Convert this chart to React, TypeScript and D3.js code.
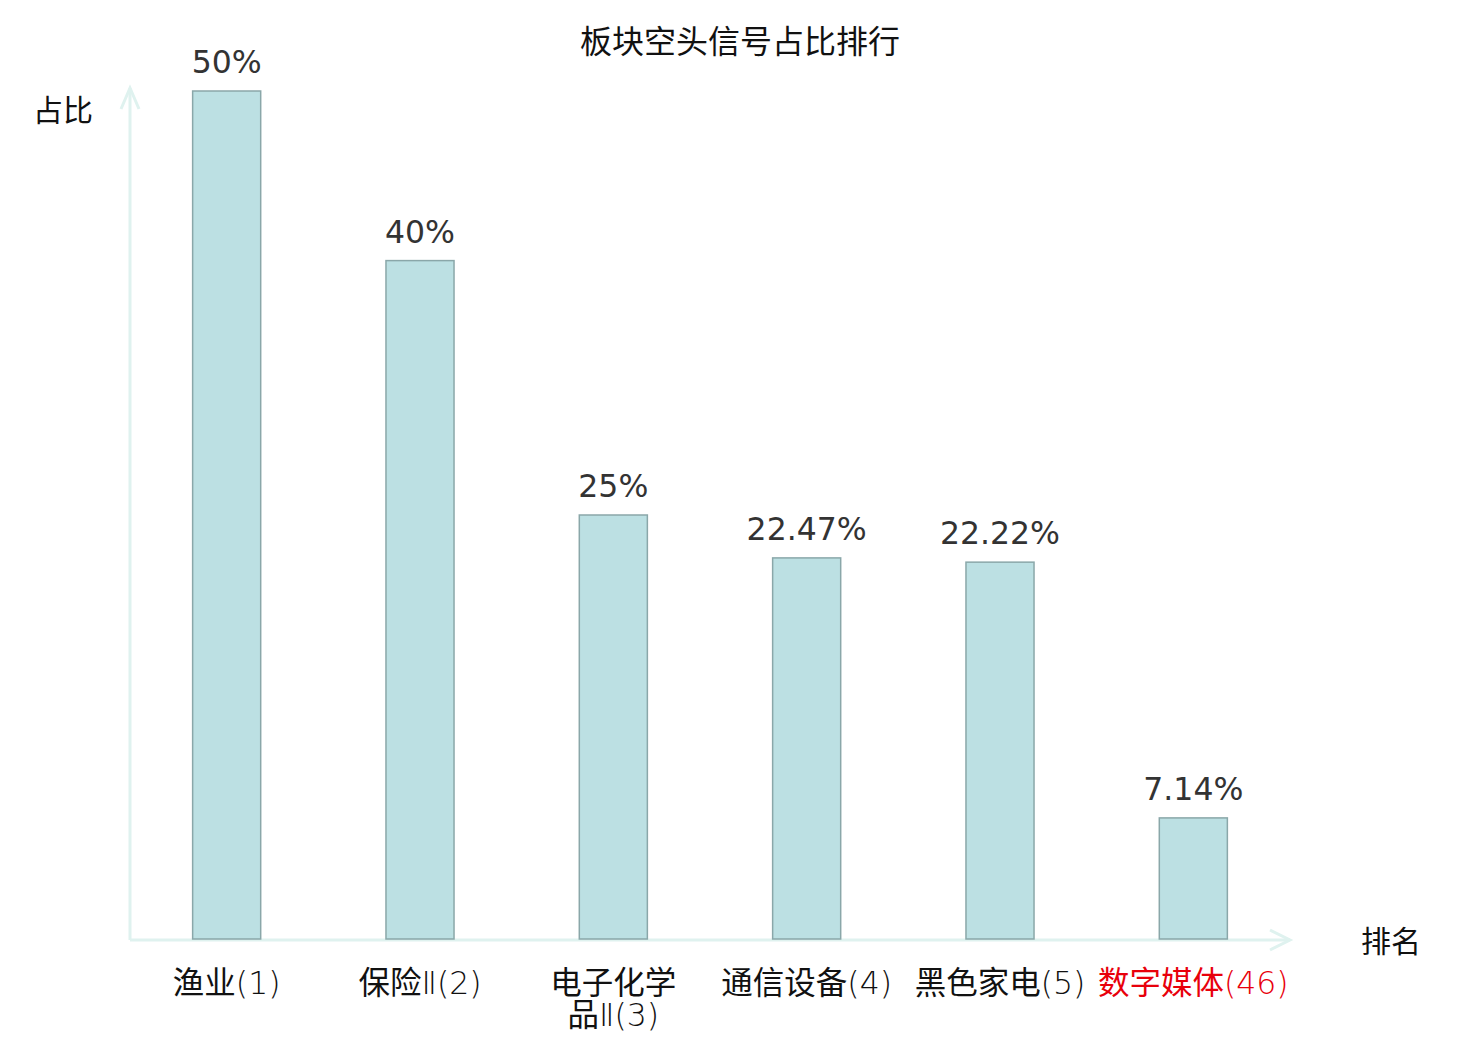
import { useEffect, useRef } from "react";
import * as d3 from "d3";

const categories = ["渔业(1)", "保险Ⅱ(2)", "电子化学\n品Ⅱ(3)", "通信设备(4)", "黑色家电(5)", "数字媒体(46)"];
const values = [50, 40, 25, 22.47, 22.22, 7.14];
const valueLabels = ["50%", "40%", "25%", "22.47%", "22.22%", "7.14%"];
const highlight = [false, false, false, false, false, true];

const WIDTH = 1480;
const HEIGHT = 1040;
const CJK = "'Noto Sans CJK SC', 'DejaVu Sans', sans-serif";
const LATIN = "'DejaVu Sans', 'Noto Sans CJK SC', sans-serif";

// split a label line into runs of CJK and non-CJK characters
const runs = (s: string) => {
  const out: { text: string; cjk: boolean }[] = [];
  for (const ch of s) {
    const cjk = /[\u4e00-\u9fff]/.test(ch);
    const last = out[out.length - 1];
    if (last && last.cjk === cjk) last.text += ch;
    else out.push({ text: ch, cjk });
  }
  return out;
};

const App = () => {
  const svgRef = useRef<SVGSVGElement | null>(null);

  useEffect(() => {
    if (!svgRef.current) return;
    const svg = d3.select(svgRef.current);
    svg.selectAll("*").remove();

    const left = 130;
    const right = 1290;
    const base = 939;
    const top = 91;
    const axisColor = "#dff2ef";

    const x = d3
      .scaleBand<string>()
      .domain(categories)
      .range([left, right])
      .paddingInner(0.648)
      .paddingOuter(0.324);

    const y = d3.scaleLinear().domain([0, d3.max(values)!]).range([base, top]);

    // Title
    svg
      .append("text")
      .attr("x", 740)
      .attr("y", 53)
      .attr("text-anchor", "middle")
      .attr("font-family", CJK)
      .attr("font-size", 32)
      .attr("fill", "#111")
      .text("板块空头信号占比排行");

    // Axes with open arrows
    const axes = svg.append("g").attr("stroke", axisColor).attr("stroke-width", 3).attr("fill", "none");
    axes.append("line").attr("x1", left).attr("y1", base + 1).attr("x2", right).attr("y2", base + 1);
    axes.append("line").attr("x1", left).attr("y1", base + 1).attr("x2", left).attr("y2", 88);
    axes
      .append("path")
      .attr("d", `M${right - 20},${base - 9} L${right},${base + 1} L${right - 20},${base + 11}`);
    axes.append("path").attr("d", `M${left - 9},${109} L${left},${88} L${left + 9},${109}`);

    svg
      .append("text")
      .attr("x", 63)
      .attr("y", 121)
      .attr("text-anchor", "middle")
      .attr("font-family", CJK)
      .attr("font-size", 30)
      .attr("fill", "#111")
      .text("占比");

    svg
      .append("text")
      .attr("x", 1391)
      .attr("y", 952)
      .attr("text-anchor", "middle")
      .attr("font-family", CJK)
      .attr("font-size", 30)
      .attr("fill", "#111")
      .text("排名");

    // Bars
    svg
      .append("g")
      .selectAll("rect")
      .data(values)
      .join("rect")
      .attr("x", (_d, i) => x(categories[i])!)
      .attr("y", (d) => y(d))
      .attr("width", x.bandwidth())
      .attr("height", (d) => base - y(d))
      .attr("fill", "#bce0e3")
      .attr("stroke", "#8aa7a9")
      .attr("stroke-width", 1.5);

    // Value labels
    svg
      .append("g")
      .selectAll("text")
      .data(values)
      .join("text")
      .attr("x", (_d, i) => x(categories[i])! + x.bandwidth() / 2)
      .attr("y", (d) => y(d) - 18)
      .attr("text-anchor", "middle")
      .attr("font-family", LATIN)
      .attr("font-size", 31.5)
      .attr("fill", "#333")
      .text((_d, i) => valueLabels[i]);

    // Category labels, one text per line
    categories.forEach((c, i) => {
      const cx = x(c)! + x.bandwidth() / 2;
      c.split("\n").forEach((line, j) => {
        const t = svg
          .append("text")
          .attr("x", cx)
          .attr("y", 994 + j * 32)
          .attr("text-anchor", "middle")
          .attr("font-size", 31.5)
          .attr("fill", highlight[i] ? "#e8000b" : "#111");
        runs(line).forEach((r) => {
          t.append("tspan")
            .attr("font-family", r.cjk ? CJK : LATIN)
            .attr("font-weight", r.cjk ? 400 : 200)
            .text(r.text);
        });
      });
    });
  }, []);

  return (
    <svg
      ref={svgRef}
      width={WIDTH}
      height={HEIGHT}
      viewBox={`0 0 ${WIDTH} ${HEIGHT}`}
      style={{ position: "absolute", left: 0, top: 0, background: "#fff" }}
    />
  );
};

export default App;
